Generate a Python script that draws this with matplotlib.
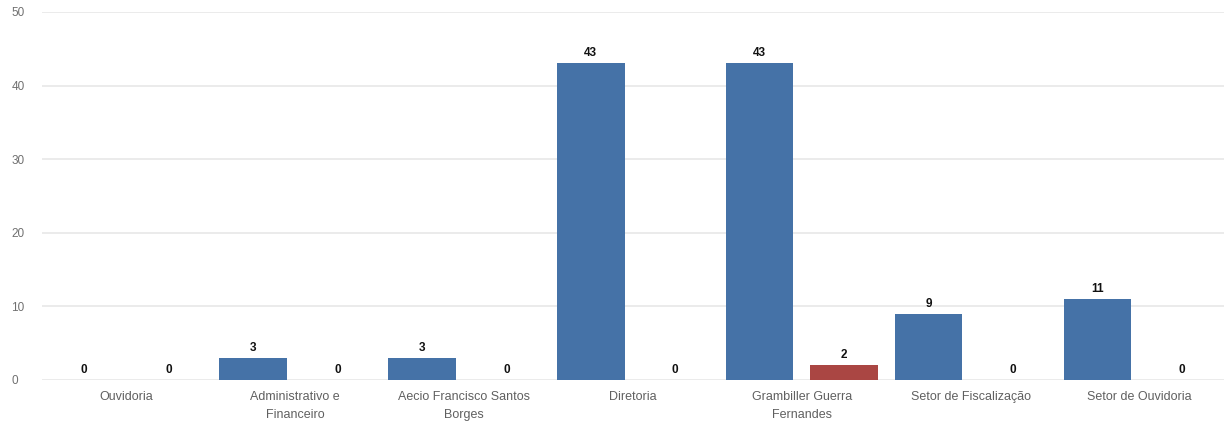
import numpy as np
import matplotlib.pyplot as plt

plt.rcParams['font.family'] = ['Liberation Sans', 'DejaVu Sans']

categorias = ['Ouvidoria', 'Administrativo e\nFinanceiro', 'Aecio Francisco Santos\nBorges',
              'Diretoria', 'Grambiller Guerra\nFernandes', 'Setor de Fiscalização', 'Setor de Ouvidoria']
serie_azul = [0, 3, 3, 43, 43, 9, 11]
serie_vermelha = [0, 0, 0, 0, 2, 0, 0]
y_ticks = [0, 10, 20, 30, 40, 50]

fig = plt.figure(figsize=(12.24, 4.25), dpi=100)
ax = fig.add_axes([0.0343, 0.106, 0.9657, 0.866])

x = np.arange(len(categorias))
larg = 0.4
b1 = ax.bar(x - 0.25, serie_azul, larg, color='#4572A7', zorder=3)
b2 = ax.bar(x + 0.25, serie_vermelha, larg, color='#AA4643', zorder=3)

# rotulos de valor em cima das barras
for barras in (b1, b2):
    for b in barras:
        h = b.get_height()
        ax.annotate(str(int(h)), (b.get_x() + b.get_width() / 2, h),
                    xytext=(0, 3), textcoords='offset points',
                    ha='center', va='bottom', fontsize=8.5, fontweight='bold', color='#111111')

ax.set_xlim(-0.5, len(categorias) - 0.5)
ax.set_ylim(0, 50)
ax.set_yticks(y_ticks)
ax.set_xticks(x)
ax.set_xticklabels(categorias, fontsize=9, color='#606060', linespacing=1.65)
ax.tick_params(axis='y', labelsize=8.5, colors='#707070', length=0)
ax.tick_params(axis='x', length=0, pad=8)
ax.grid(axis='y', color='#e8e8e8', linewidth=1.2, zorder=0)
for s in ax.spines.values():
    s.set_visible(False)
for t in ax.get_yticklabels():
    t.set_horizontalalignment('left')
ax.yaxis.set_tick_params(pad=22)

fig.savefig('out.png', dpi=100)
